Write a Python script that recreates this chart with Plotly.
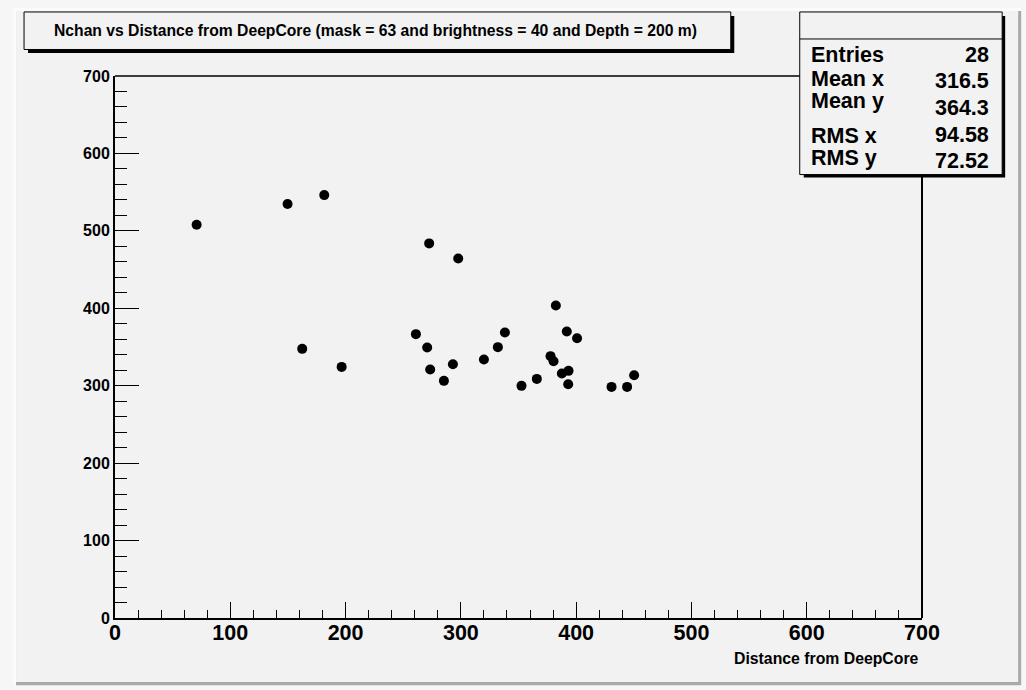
import plotly.graph_objects as go

# ---- data ----
distance = [70.8, 149.7, 181.5, 272.5, 297.7, 162.4, 196.6, 261.0, 270.8, 273.4,
            285.3, 293.1, 320.0, 332.1, 338.2, 352.6, 365.9, 382.4, 377.8, 380.4,
            387.6, 393.4, 393.1, 391.9, 400.8, 430.7, 444.2, 450.3]
nchan = [507.8, 534.6, 546.2, 483.8, 464.4, 347.6, 324.3, 366.6, 349.4, 321.0,
         306.3, 327.8, 333.9, 349.8, 368.8, 299.8, 308.8, 403.7, 338.2, 331.7,
         315.8, 319.2, 302.0, 370.1, 361.4, 298.5, 298.5, 313.6]
stat_labels = ["Entries", "Mean x", "Mean y", "RMS x", "RMS y"]
stat_values = ["28", "316.5", "364.3", "94.58", "72.52"]
title_text = "Nchan vs Distance from DeepCore (mask = 63 and brightness = 40 and Depth = 200 m)"
xaxis_title = "Distance from DeepCore"
tick_vals = [0, 100, 200, 300, 400, 500, 600, 700]

# ---- geometry (pixels) ----
W, H = 1026, 690
L, R, T, B = 115, 922.3, 76, 617.7
PW, PH = R - L, B - T

def px(x):
    return (x - L) / PW

def py(y):
    return (B - y) / PH

BG = "#f2f2f2"
FONT = "Liberation Sans"

fig = go.Figure()
fig.add_trace(go.Scatter(
    x=distance, y=nchan, mode="markers",
    marker=dict(color="black", size=10, line=dict(width=0)),
    showlegend=False, hoverinfo="x+y",
))

shapes = []
# outer canvas bevel
shapes.append(dict(type="rect", xref="paper", yref="paper", x0=px(-5), x1=px(1031), y0=py(-5), y1=py(695),
                   fillcolor="#f6f6f6", line=dict(width=0), layer="below"))
shapes.append(dict(type="rect", xref="paper", yref="paper", x0=px(13), x1=px(1021.5), y0=py(8), y1=py(685),
                   fillcolor="#fbfbfb", line=dict(width=0), layer="below"))
shapes.append(dict(type="rect", xref="paper", yref="paper", x0=px(16), x1=px(1021.5), y0=py(11), y1=py(685),
                   fillcolor="#a9a9a9", line=dict(width=0), layer="below"))
shapes.append(dict(type="rect", xref="paper", yref="paper", x0=px(16), x1=px(1018.5), y0=py(11), y1=py(681.7),
                   fillcolor=BG, line=dict(width=0), layer="below"))
# frame top & right
shapes.append(dict(type="line", xref="paper", yref="paper", x0=0, x1=1, y0=1, y1=1,
                   line=dict(color="black", width=1.3)))
shapes.append(dict(type="line", xref="paper", yref="paper", x0=1, x1=1, y0=0, y1=1,
                   line=dict(color="black", width=2)))
# title box with shadow
shapes.append(dict(type="rect", xref="paper", yref="paper", x0=px(28), x1=px(734.5), y0=py(16), y1=py(53),
                   fillcolor="black", line=dict(width=0)))
shapes.append(dict(type="rect", xref="paper", yref="paper", x0=px(24), x1=px(731), y0=py(12), y1=py(49.5),
                   fillcolor=BG, line=dict(color="black", width=1)))
# stats box with shadow
shapes.append(dict(type="rect", xref="paper", yref="paper", x0=px(804), x1=px(1005.5), y0=py(16), y1=py(177.5),
                   fillcolor="black", line=dict(width=0)))
shapes.append(dict(type="rect", xref="paper", yref="paper", x0=px(800), x1=px(1002.5), y0=py(12), y1=py(174.5),
                   fillcolor=BG, line=dict(color="black", width=1)))
shapes.append(dict(type="line", xref="paper", yref="paper", x0=px(800), x1=px(1002.5), y0=py(39), y1=py(39),
                   line=dict(color="black", width=1)))

annotations = []
annotations.append(dict(text="<b>" + title_text + "</b>", xref="paper", yref="paper",
                        x=px(376), y=py(30.5), xanchor="center", yanchor="middle", showarrow=False,
                        font=dict(family=FONT, size=15.7, color="black")))
label_y = [55, 79, 101, 135.5, 158]
value_y = [55, 81, 108, 135, 161]
for lab, val, ly, vy in zip(stat_labels, stat_values, label_y, value_y):
    annotations.append(dict(text="<b>" + lab + "</b>", xref="paper", yref="paper", x=px(809), y=py(ly),
                            xanchor="left", yanchor="middle", showarrow=False,
                            font=dict(family=FONT, size=21.5, color="black")))
    annotations.append(dict(text="<b>" + val + "</b>", xref="paper", yref="paper", x=px(991), y=py(vy),
                            xanchor="right", yanchor="middle", showarrow=False,
                            font=dict(family=FONT, size=21.5, color="black")))
annotations.append(dict(text="<b>" + xaxis_title + "</b>", xref="paper", yref="paper",
                        x=px(921), y=py(658), xanchor="right", yanchor="middle", showarrow=False,
                        font=dict(family=FONT, size=15.8, color="black")))

fig.update_layout(
    width=W, height=H, autosize=False,
    margin=dict(l=L, r=W - R, t=T, b=H - B, pad=0),
    paper_bgcolor=BG, plot_bgcolor=BG,
    shapes=shapes, annotations=annotations,
    showlegend=False,
)
fig.update_xaxes(
    range=[0, 700], tickmode="array", tickvals=tick_vals, ticktext=[str(v) for v in tick_vals],
    showgrid=False, zeroline=False, showline=True, linecolor="black", linewidth=2,
    ticks="inside", ticklen=16, tickwidth=1, tickcolor="black",
    minor=dict(ticks="inside", ticklen=8, tickwidth=1, tickcolor="black", dtick=20, showgrid=False),
    tickfont=dict(family=FONT, size=21.5, color="black", weight="bold"),
    ticklabelstandoff=-6,
)
fig.update_yaxes(
    range=[0, 700], tickmode="array", tickvals=tick_vals, ticktext=[str(v) for v in tick_vals],
    showgrid=False, zeroline=False, showline=True, linecolor="black", linewidth=2,
    ticks="inside", ticklen=24, tickwidth=1, tickcolor="black",
    minor=dict(ticks="inside", ticklen=12, tickwidth=1, tickcolor="black", dtick=20, showgrid=False),
    tickfont=dict(family=FONT, size=16, color="black", weight="bold"),
    ticklabelstandoff=0,
)

fig.write_html(
    "out.html",
    config={"displayModeBar": False},
    post_script="document.body.style.margin='0';document.body.style.overflow='hidden';",
)
